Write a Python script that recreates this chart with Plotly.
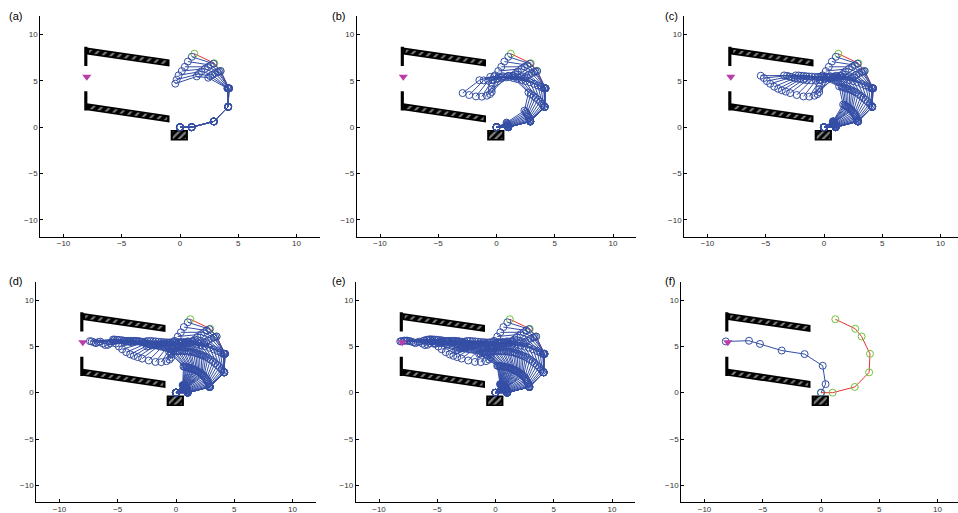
import numpy as np
import plotly.graph_objects as go

# ---------------- data ----------------
LINK_LENGTHS = [1, 2, 2, 2, 2, 1, 2]
# absolute heading (deg) of each link, base -> end effector
INITIAL_HEADINGS = [0, 18, 52, 88, 111, 123, 149]
PHASE_A = [
    [0, 18, 52, 88, 111, 128, 158],
    [0, 18, 52, 88, 115, 136, 169],
    [0, 18, 52, 88, 119, 145, 180],
    [0, 18, 52, 89, 125, 152, 187],
    [0, 18, 52, 90, 133, 159, 192],
    [0, 18, 52, 91, 139, 166, 198],
    [0, 18, 52, 92, 145, 172, 203],
]
PHASE_B = [
    [2, 20, 55, 96, 148, 180, 220],
    [5, 22, 58, 100, 151, 186, 232],
    [8, 25, 62, 105, 155, 193, 240],
    [12, 28, 66, 110, 160, 200, 244],
    [16, 31, 70, 116, 165, 205, 243],
    [20, 34, 73, 121, 169, 207, 238],
    [25, 37, 77, 126, 172, 205, 232],
    [30, 40, 80, 130, 176, 201, 224],
]
PHASE_C = [
    [31, 43, 83, 133, 177, 198, 220],
    [32, 46, 86, 136, 177, 196, 217],
    [33, 49, 88, 139, 177, 194, 213],
    [34, 52, 91, 141, 177, 191, 208],
    [36, 55, 93, 144, 176, 188, 201],
    [37, 58, 95, 146, 176, 185, 194],
    [38, 61, 97, 148, 175, 182, 187],
    [40, 64, 100, 150, 175, 180, 181],
]
PHASE_D = [
    [41, 66, 103, 152, 176, 182, 184],
    [42, 68, 106, 154, 175, 183, 188],
    [44, 71, 109, 156, 173, 181, 191],
    [45, 73, 112, 157, 172, 180, 187],
    [47, 76, 115, 158, 170, 178, 183],
    [48, 78, 118, 159, 168, 176, 186],
    [50, 81, 121, 160, 167, 174, 190],
    [52, 83, 123, 161, 166, 173, 188],
    [53, 86, 126, 162, 164, 171, 186],
    [55, 88, 128, 163, 163, 170, 185],
]
PHASE_E = [
    [57, 90, 130, 164, 162, 168, 184],
    [59, 91, 132, 165, 161, 166, 184],
    [61, 93, 134, 166, 161, 164, 183],
    [63, 94, 136, 167, 160, 163, 183],
    [65, 96, 139, 168, 160, 161, 182],
    [67, 97, 141, 169, 159, 160, 182],
]
FINAL_HEADINGS = [67, 97, 141, 169, 159, 160, 182]

TARGET_X = [-8.0]
TARGET_Y = [5.45]

# obstacles (world coordinates)
UPPER_POST_X = [-8.22, -7.95, -7.95, -8.22]
UPPER_POST_Y = [6.6, 6.6, 8.68, 8.68]
UPPER_BAR_X = [-8.0, -0.9, -0.9, -8.0]
UPPER_BAR_Y = [8.6, 7.3, 6.55, 7.85]
UPPER_HATCH_X = [-7.8, -1.1, -1.1, -7.8]
UPPER_HATCH_Y = [8.39, 7.16, 6.76, 7.99]
LOWER_POST_X = [-8.22, -7.95, -7.95, -8.22]
LOWER_POST_Y = [1.8, 1.8, 3.88, 3.88]
LOWER_BAR_X = [-8.0, -0.9, -0.9, -8.0]
LOWER_BAR_Y = [2.58, 1.26, 0.5, 1.82]
LOWER_HATCH_X = [-7.8, -1.1, -1.1, -7.8]
LOWER_HATCH_Y = [2.36, 1.12, 0.72, 1.96]
BOX_X = [-0.8, 0.68, 0.68, -0.8]
BOX_Y = [-1.45, -1.45, -0.3, -0.3]
BOX_HATCH_X = [-0.62, 0.5, 0.5, -0.62]
BOX_HATCH_Y = [-1.28, -1.28, -0.47, -0.47]

TICKS = [-10, -5, 0, 5, 10]
PANEL_LABELS = ["(a)", "(b)", "(c)", "(d)", "(e)", "(f)"]
X_RANGES = [[-12, 12], [-12, 12], [-12, 11.5], [-12, 12], [-12, 12], [-12, 11.76]]
Y_RANGE = [-11.8, 12]

TRAJECTORY = PHASE_A + PHASE_B + PHASE_C + PHASE_D + PHASE_E
PANEL_COUNTS = [len(PHASE_A),
                len(PHASE_A) + len(PHASE_B),
                len(PHASE_A) + len(PHASE_B) + len(PHASE_C),
                len(PHASE_A) + len(PHASE_B) + len(PHASE_C) + len(PHASE_D),
                len(TRAJECTORY)]

# ---------------- styling / layout ----------------
BLUE = "rgb(52,78,165)"
RED = "rgb(235,50,50)"
GREEN = "rgb(110,195,60)"
MAGENTA = "rgb(185,60,170)"
FONT = "Liberation Sans, Arial, sans-serif"
W, H = 958, 513

# plot-area boxes in pixels: (left, right, top, bottom)
PANEL_PX = [
    (40.2, 319.8, 16.0, 236.5),
    (356.7, 636.3, 16.0, 236.5),
    (684.2, 958.0, 16.0, 236.5),
    (36.2, 315.8, 281.5, 502.0),
    (355.7, 635.3, 281.5, 502.0),
    (681.2, 958.0, 281.5, 502.0),
]
LABEL_POS = [(7, 16), (330, 16), (663, 16), (7, 281), (330, 281), (663, 281)]


def chain(headings):
    ang = np.radians(headings)
    L = np.array(LINK_LENGTHS, dtype=float)
    xs = np.concatenate([[0.0], np.cumsum(L * np.cos(ang))])
    ys = np.concatenate([[0.0], np.cumsum(L * np.sin(ang))])
    return xs, ys


def stacked(configs):
    X, Y = [], []
    for h in configs:
        xs, ys = chain(h)
        X += list(xs) + [None]
        Y += list(ys) + [None]
    return X, Y


fig = go.Figure()

for p in range(6):
    xa = "x" if p == 0 else f"x{p + 1}"
    ya = "y" if p == 0 else f"y{p + 1}"

    def add_poly(xs, ys, pattern=None):
        kw = dict(x=xs + [xs[0]], y=ys + [ys[0]], xaxis=xa, yaxis=ya, mode="lines",
                  fill="toself", fillcolor="black", line=dict(width=0, color="black"),
                  hoverinfo="skip", showlegend=False)
        if pattern:
            kw["fillpattern"] = dict(shape="/", fgcolor="white", bgcolor="black",
                                     size=pattern[0], solidity=pattern[1])
        fig.add_trace(go.Scatter(**kw))

    add_poly(UPPER_POST_X, UPPER_POST_Y)
    add_poly(UPPER_BAR_X, UPPER_BAR_Y)
    add_poly(UPPER_HATCH_X, UPPER_HATCH_Y, (6, 0.35))
    add_poly(LOWER_POST_X, LOWER_POST_Y)
    add_poly(LOWER_BAR_X, LOWER_BAR_Y)
    add_poly(LOWER_HATCH_X, LOWER_HATCH_Y, (6, 0.35))
    add_poly(BOX_X, BOX_Y)
    add_poly(BOX_HATCH_X, BOX_HATCH_Y, (5, 0.45))

    # initial configuration (red links, green joints)
    ix, iy = chain(INITIAL_HEADINGS)
    fig.add_trace(go.Scatter(x=list(ix), y=list(iy), xaxis=xa, yaxis=ya,
                             mode="lines+markers", line=dict(color=RED, width=1),
                             marker=dict(symbol="circle-open", size=7, color=GREEN,
                                         line=dict(width=1, color=GREEN)),
                             hoverinfo="skip", showlegend=False))
    if p < 5:
        X, Y = stacked(TRAJECTORY[:PANEL_COUNTS[p]])
    else:
        X, Y = stacked([FINAL_HEADINGS])
    fig.add_trace(go.Scatter(x=X, y=Y, xaxis=xa, yaxis=ya, mode="lines+markers",
                             line=dict(color=BLUE, width=1),
                             marker=dict(symbol="circle-open", size=7, color=BLUE,
                                         line=dict(width=1, color=BLUE)),
                             hoverinfo="skip", showlegend=False, connectgaps=False))
    fig.add_trace(go.Scatter(x=TARGET_X, y=TARGET_Y, xaxis=xa, yaxis=ya, mode="markers",
                             marker=dict(symbol="triangle-down", size=8, color=MAGENTA),
                             hoverinfo="skip", showlegend=False))

    axis_common = dict(tickvals=TICKS, ticks="inside", ticklen=3,
                       tickcolor="black", showline=True, linecolor="black", linewidth=1,
                       showgrid=False, zeroline=False, mirror=False,
                       tickfont=dict(family=FONT, size=8, color="#333"))
    l, r, t, b = PANEL_PX[p]
    fig.layout[("xaxis" if p == 0 else f"xaxis{p + 1}")] = dict(
        domain=[l / W, r / W], anchor=ya, range=X_RANGES[p], ticklabelstandoff=-1,
        **axis_common)
    fig.layout[("yaxis" if p == 0 else f"yaxis{p + 1}")] = dict(
        domain=[1 - b / H, 1 - t / H], anchor=xa, range=Y_RANGE, **axis_common)

    lx, ly = LABEL_POS[p]
    fig.add_annotation(x=lx / W, y=1 - ly / H, xref="paper", yref="paper",
                       text=PANEL_LABELS[p], showarrow=False, xanchor="left",
                       yanchor="middle", font=dict(family=FONT, size=11, color="black"))

fig.update_layout(width=W, height=H, margin=dict(l=0, r=0, t=0, b=0),
                  paper_bgcolor="white", plot_bgcolor="white", showlegend=False)
fig.write_html("out.html", config={"displayModeBar": False},
               post_script="document.body.style.margin='0px';"
                           "document.body.style.overflow='hidden';")
